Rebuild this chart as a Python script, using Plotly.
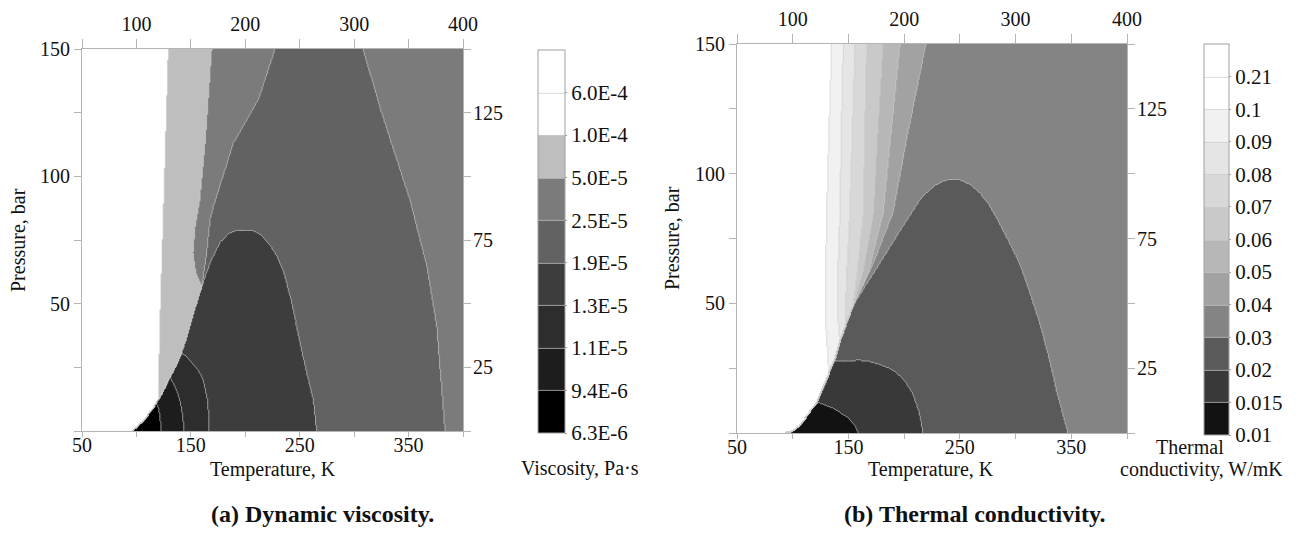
import numpy as np
import plotly.graph_objects as go

W, H = 1309, 556
T_MIN, T_MAX = 50, 400
P_MIN, P_MAX = 0, 150
FONT = "Liberation Serif"

# ---------------- (a) dynamic viscosity, Pa*s ----------------
VISC_LABELS = ["6.3E-6", "9.4E-6", "1.1E-5", "1.3E-5", "1.9E-5",
               "2.5E-5", "5.0E-5", "1.0E-4", "6.0E-4"]
VISC_COLORS = ["#000000", "#1d1d1d", "#2d2d2d", "#3d3d3d", "#626262",
               "#7b7b7b", "#bebebe", "#ffffff", "#ffffff"]
VISC_BACKGROUND = 5

# edge of the vapour region (saturation line and its continuation), T in K, P in bar
VISC_SAT_T = [96, 98.7, 104, 109.4, 115, 120, 125, 129.3, 135, 140, 146.2, 152.2, 160]
VISC_SAT_P = [0, 1, 3, 5.6, 8.8, 12.2, 16, 20, 24.5, 29.2, 37, 46.2, 56.7]
# 1.9E-5 contour
VISC_C19_T = [167.6, 176.8, 185, 192, 200, 208, 215, 221, 228, 235, 243, 250.3, 257, 262.5, 265.6]
VISC_C19_P = [65.9, 74, 77.6, 78.8, 79, 78.5, 76.8, 74, 69.5, 63, 50, 34.4, 22, 12.2, 0]
# 2.5E-5 contour (left and right branches)
VISC_C25L_T = [227.3, 212, 189, 170.6, 167.6, 164.5, 160]
VISC_C25L_P = [150, 130, 113, 88, 82.9, 69.8, 56.7]
VISC_C25R_T = [383.5, 376, 367, 351.3, 326.5, 308.1]
VISC_C25R_P = [0, 40.8, 64.4, 90.7, 123.3, 150]
# 5.0E-5 contour
VISC_C50_T = [169.1, 163.5, 158, 154, 152, 154.5, 160]
VISC_C50_P = [150, 115, 90, 80, 70, 62, 56.7]
# 1.3E-5, 1.1E-5 and 9.4E-6 contours
VISC_C13_T = [167, 166.5, 165, 161.5, 156, 149, 144.5, 141]
VISC_C13_P = [0, 6, 13, 20, 24.5, 27.9, 29.8, 30.5]
VISC_C11_T = [143.5, 143, 141.5, 139, 135.4, 132.5, 131]
VISC_C11_P = [0, 4, 9, 13.5, 17.4, 19.8, 21.3]
VISC_C94_T = [122.5, 122, 121, 119.5, 118.2]
VISC_C94_P = [0, 4, 7.5, 10, 11]
# 1.0E-4 contour (liquid side)
VISC_C1E4_T = [129.3, 124.7, 121.7, 120.2, 120]
VISC_C1E4_P = [150, 85, 43.6, 14.8, 12.2]

# ---------------- (b) thermal conductivity, W/mK ----------------
TC_LABELS = ["0.01", "0.015", "0.02", "0.03", "0.04", "0.05",
             "0.06", "0.07", "0.08", "0.09", "0.1", "0.21"]
TC_COLORS = ["#121212", "#393939", "#5a5a5a", "#848484", "#a2a2a2", "#b7b7b7",
             "#c9c9c9", "#d8d8d8", "#e5e5e5", "#f1f1f1", "#ffffff", "#ffffff"]
TC_BACKGROUND = 3

TC_SAT_T = [93, 99, 105, 112, 118.5, 122, 127.5, 132.5, 137.5, 142.4, 148, 154]
TC_SAT_P = [0, 0.5, 2.4, 6, 10.1, 12, 17.9, 23, 28, 35.3, 42, 48.8]
# 0.02 contour beyond the critical point
TC_C002_T = [157.4, 165, 177.5, 195, 207, 214, 220, 228, 236, 244, 252, 260, 268, 277,
             286, 295, 304, 313, 322, 330, 337, 342, 347]
TC_C002_P = [51.3, 56.5, 65, 77, 85, 89.8, 92.5, 95.5, 97.3, 98, 97.4, 95.6, 92.6, 87.5,
             80.5, 73, 65, 54, 42, 29, 16, 8, 0]
# 0.015 and 0.01 contours
TC_C0015_T = [217, 213.5, 208, 200, 190, 182, 172, 160.4, 148.4, 142, 137.5]
TC_C0015_P = [0, 8, 15, 20.5, 24.3, 25.8, 27.3, 28.1, 27.8, 27.8, 28]
TC_C001_T = [159, 156, 148.4, 136.4, 124.5, 122]
TC_C001_P = [0, 3, 6.3, 9.5, 11.4, 12]
# dense-fluid contours 0.04 ... 0.1 (top edge down to the saturation line)
TC_C004_T = [219.6, 203, 190, 172, 154]
TC_C004_P = [150, 115, 85, 65, 48.8]
TC_C005_T = [196.3, 188, 181.3, 168, 154]
TC_C005_P = [150, 115, 85, 62, 48.8]
TC_C006_T = [180.8, 176, 172.3, 163, 154]
TC_C006_P = [150, 115, 85, 62, 48.8]
TC_C007_T = [166.4, 164.5, 163.3, 158, 154]
TC_C007_P = [150, 115, 85, 62, 48.8]
TC_C008_T = [155.9, 153.5, 151.4, 148.5, 147.5, 148]
TC_C008_P = [150, 115, 85, 60, 48, 42]
TC_C009_T = [145.4, 143.5, 142.4, 140.5, 140.5, 142.4]
TC_C009_P = [150, 115, 85, 60, 45, 35.3]
TC_C01_T = [135, 132.5, 130.5, 129.5, 130, 132.5]
TC_C01_P = [150, 115, 85, 60, 40, 23]


def sat_below(sat_t, sat_p, p_end):
    """Saturation-line vertices under p_end, walking down to P = 0."""
    pts = [(t, p) for t, p in zip(sat_t, sat_p) if p < p_end]
    return pts[::-1]


def left_region(ct, cp, sat_t, sat_p):
    """Region on the low-temperature side of a contour that ends on the saturation line."""
    return [(T_MIN, P_MAX)] + list(zip(ct, cp)) + sat_below(sat_t, sat_p, cp[-1]) + [(T_MIN, P_MIN)]


def pocket(ct, cp, sat_t, sat_p):
    """Region between a contour that starts at P = 0 and the saturation line."""
    return list(zip(ct, cp)) + sat_below(sat_t, sat_p, cp[-1])


def inside(tt, pp, poly):
    vx = np.array([a for a, _ in poly], float)
    vy = np.array([b for _, b in poly], float)
    res = np.zeros(tt.shape, bool)
    j = len(vx) - 1
    for i in range(len(vx)):
        xi, yi, xj, yj = vx[i], vy[i], vx[j], vy[j]
        dy = yj - yi if yj != yi else 1e-12
        cross = ((yi > pp) != (yj > pp)) & (tt < (xj - xi) * (pp - yi) / dy + xi)
        res ^= cross
        j = i
    return res


T_GRID = np.linspace(T_MIN, T_MAX, 351)
P_GRID = np.linspace(P_MIN, P_MAX, 301)
TT, PP = np.meshgrid(T_GRID, P_GRID)
TT_T = np.clip(TT, T_MIN + 1e-6, T_MAX - 1e-6)
PP_T = np.clip(PP, P_MIN + 1e-6, P_MAX - 1e-6)


def band_field(background, regions):
    z = np.full(TT.shape, background + 0.5)
    for band, poly in regions:
        z[inside(TT_T, PP_T, poly)] = band + 0.5
    return z


visc_regions = [
    (4, list(zip(VISC_C25L_T, VISC_C25L_P)) + sat_below(VISC_SAT_T, VISC_SAT_P, VISC_C25L_P[-1])
     + list(zip(VISC_C25R_T, VISC_C25R_P))),
    (6, left_region(VISC_C50_T, VISC_C50_P, VISC_SAT_T, VISC_SAT_P)),
    (3, list(zip(VISC_SAT_T, VISC_SAT_P)) + list(zip(VISC_C19_T, VISC_C19_P))),
    (2, pocket(VISC_C13_T, VISC_C13_P, VISC_SAT_T, VISC_SAT_P)),
    (1, pocket(VISC_C11_T, VISC_C11_P, VISC_SAT_T, VISC_SAT_P)),
    (0, pocket(VISC_C94_T, VISC_C94_P, VISC_SAT_T, VISC_SAT_P)),
    (7, left_region(VISC_C1E4_T, VISC_C1E4_P, VISC_SAT_T, VISC_SAT_P)),
]
tc_regions = [
    (2, list(zip(TC_SAT_T, TC_SAT_P)) + list(zip(TC_C002_T, TC_C002_P))),
    (1, pocket(TC_C0015_T, TC_C0015_P, TC_SAT_T, TC_SAT_P)),
    (0, pocket(TC_C001_T, TC_C001_P, TC_SAT_T, TC_SAT_P)),
    (4, left_region(TC_C004_T, TC_C004_P, TC_SAT_T, TC_SAT_P)),
    (5, left_region(TC_C005_T, TC_C005_P, TC_SAT_T, TC_SAT_P)),
    (6, left_region(TC_C006_T, TC_C006_P, TC_SAT_T, TC_SAT_P)),
    (7, left_region(TC_C007_T, TC_C007_P, TC_SAT_T, TC_SAT_P)),
    (8, left_region(TC_C008_T, TC_C008_P, TC_SAT_T, TC_SAT_P)),
    (9, left_region(TC_C009_T, TC_C009_P, TC_SAT_T, TC_SAT_P)),
    (10, left_region(TC_C01_T, TC_C01_P, TC_SAT_T, TC_SAT_P)),
]

Z_VISC = band_field(VISC_BACKGROUND, visc_regions)
Z_TC = band_field(TC_BACKGROUND, tc_regions)


def stepped_scale(colors):
    n = len(colors)
    cs = []
    for k, c in enumerate(colors):
        cs.append([k / n, c])
        cs.append([(k + 1) / n, c])
    return cs


def px_x(x):
    return x / W


def px_y(y):
    return 1 - y / H


def contour_trace(z, colors, labels, xa, ya, cb_left, cb_top, cb_bottom, cb_thick):
    n = len(colors)
    return go.Contour(
        x=T_GRID, y=P_GRID, z=z, xaxis=xa, yaxis=ya,
        zmin=0, zmax=n, autocontour=False,
        contours=dict(start=1, end=n - 1, size=1, coloring="fill", showlines=True),
        line=dict(color="rgba(205,205,205,0.9)", width=0.8, smoothing=1),
        colorscale=stepped_scale(colors),
        hoverinfo="skip",
        colorbar=dict(
            x=px_x(cb_left), xanchor="left", xpad=0,
            y=px_y((cb_top + cb_bottom) / 2), yanchor="middle", ypad=0,
            len=cb_bottom - cb_top, lenmode="pixels",
            thickness=cb_thick, thicknessmode="pixels",
            outlinecolor="#a0a0a0", outlinewidth=1,
            tickmode="array", tickvals=list(range(len(labels))), ticktext=labels,
            ticks="outside", ticklen=2, tickcolor="#a0a0a0",
            tickfont=dict(family=FONT, size=21, color="#111111"),
        ),
    )


def frame_anchor(xa, ya):
    # invisible trace so the top and right axes of a panel get drawn
    return go.Scatter(x=[T_MIN, T_MAX], y=[P_MIN, P_MAX], xaxis=xa, yaxis=ya,
                      mode="markers", marker=dict(opacity=0), hoverinfo="skip",
                      showlegend=False)


fig = go.Figure()
fig.add_trace(contour_trace(Z_VISC, VISC_COLORS, VISC_LABELS, "x", "y", 538, 50, 433, 27))
fig.add_trace(frame_anchor("x2", "y2"))
fig.add_trace(contour_trace(Z_TC, TC_COLORS, TC_LABELS, "x3", "y3", 1204, 44, 435, 25))
fig.add_trace(frame_anchor("x4", "y4"))

X_TICKS = [50, 100, 150, 200, 250, 300, 350, 400]
Y_TICKS = [0, 25, 50, 75, 100, 125, 150]
X_BOTTOM_TEXT = ["50", "", "150", "", "250", "", "350", ""]
X_TOP_TEXT = ["", "100", "", "200", "", "300", "", "400"]
Y_LEFT_TEXT = ["", "", "50", "", "100", "", "150"]
Y_RIGHT_TEXT = ["", "25", "", "75", "", "125", ""]

axis_common = dict(showgrid=False, zeroline=False, showline=True, linecolor="#b4b4b4",
                   linewidth=1, ticks="outside", tickcolor="#b4b4b4", ticklen=7,
                   automargin=False, fixedrange=True,
                   tickfont=dict(family=FONT, size=20, color="#111111"), tickmode="array")


def add_panel(xa, xa2, ya, ya2, left, right, top, bottom):
    xd = [px_x(left), px_x(right)]
    yd = [px_y(bottom), px_y(top)]
    xn, yn = xa.replace("axis", ""), ya.replace("axis", "")
    fig.update_layout(**{
        xa: dict(axis_common, domain=xd, range=[T_MIN, T_MAX], anchor=yn,
                 tickvals=X_TICKS, ticktext=X_BOTTOM_TEXT, ticklen=5, ticklabelstandoff=-9),
        xa2: dict(axis_common, domain=xd, range=[T_MIN, T_MAX], anchor=yn, overlaying=xn,
                  side="top", tickvals=X_TICKS, ticktext=X_TOP_TEXT, ticklen=9),
        ya: dict(axis_common, domain=yd, range=[P_MIN, P_MAX], anchor=xn,
                 tickvals=Y_TICKS, ticktext=Y_LEFT_TEXT),
        ya2: dict(axis_common, domain=yd, range=[P_MIN, P_MAX], anchor=xn, overlaying=yn,
                  side="right", tickvals=Y_TICKS, ticktext=Y_RIGHT_TEXT, ticklabelstandoff=-2),
    })


add_panel("xaxis", "xaxis2", "yaxis", "yaxis2", 82, 463, 49, 431)
add_panel("xaxis3", "xaxis4", "yaxis3", "yaxis4", 737, 1127, 44, 433)


def note(text, x, y, size=20, bold=False, angle=0):
    if bold:
        text = "<b>" + text + "</b>"
    fig.add_annotation(text=text, x=px_x(x), y=px_y(y), xref="paper", yref="paper",
                       showarrow=False, textangle=angle, xanchor="center", yanchor="middle",
                       font=dict(family=FONT, size=size, color="#111111"))


note("Pressure, bar", 18, 240, angle=-90)
note("Temperature, K", 273, 469)
note("Viscosity, Pa·s", 580, 468)
note("(a) Dynamic viscosity.", 322, 514, size=24, bold=True)

note("Pressure, bar", 672, 238, angle=-90)
note("Temperature, K", 931, 469)
note("Thermal", 1190, 447)
note("conductivity, W/mK", 1201, 469)
note("(b) Thermal conductivity.", 975, 514, size=24, bold=True)

fig.update_layout(width=W, height=H, margin=dict(l=0, r=0, t=0, b=0),
                  paper_bgcolor="white", plot_bgcolor="white", showlegend=False)

fig.write_html("out.html")
